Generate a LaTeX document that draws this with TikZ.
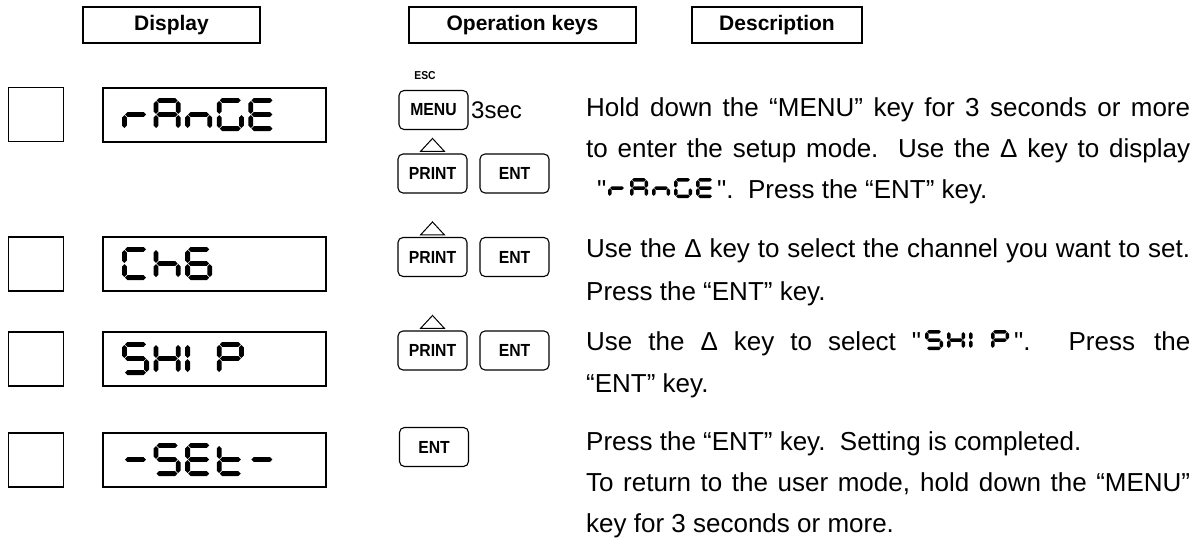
\documentclass[tikz,border=0pt]{standalone}
\usepackage{fontspec}
\setmainfont{Liberation Sans}
\newfontfamily\rawfont{Liberation Sans}
\newfontfamily\keyfont[FakeStretch=0.9]{Liberation Sans}
\usetikzlibrary{calc}
% seven-segment helpers
\newcommand\segH[3]{\fill[black] ({#1+\sg},#3) -- ({#1+\sg+\sth},{#3-\sth}) -- ({#2-\sg-\sth},{#3-\sth}) -- ({#2-\sg},#3) -- ({#2-\sg-\sth},{#3+\sth}) -- ({#1+\sg+\sth},{#3+\sth}) -- cycle;}
\newcommand\segV[3]{\fill[black] (#1,{#2+\sg}) -- ({#1+\sth},{#2+\sg+\sth}) -- ({#1+\sth},{#3-\sg-\sth}) -- (#1,{#3-\sg}) -- ({#1-\sth},{#3-\sg-\sth}) -- ({#1-\sth},{#2+\sg+\sth}) -- cycle;}
\newcommand\segA{\segH\gxl\gxr\gyt}
\newcommand\segB{\segV\gxr\gyt\gym}
\newcommand\segC{\segV\gxr\gym\gyb}
\newcommand\segD{\segH\gxl\gxr\gyb}
\newcommand\segE{\segV\gxl\gym\gyb}
\newcommand\segF{\segV\gxl\gyt\gym}
\newcommand\segG{\segH\gxl\gxr\gym}
\newcommand\lcdr{\segE\segG}
\newcommand\lcdA{\segA\segB\segC\segE\segF\segG}
\newcommand\lcdn{\segC\segE\segG}
\newcommand\lcdG{\segA\segC\segD\segE\segF}
\newcommand\lcdE{\segA\segD\segE\segF\segG}
\newcommand\lcdC{\segA\segD\segE\segF}
\newcommand\lcdh{\segC\segE\segF\segG}
\newcommand\lcdsix{\segA\segC\segD\segE\segF\segG}
\newcommand\lcdS{\segA\segC\segD\segF\segG}
\newcommand\lcdt{\segD\segE\segF\segG}
\newcommand\lcddash{\segG}
\newcommand\lcdK{\segB\segC\segE\segF\segG}
\newcommand\lcdI{\segE\segF}
\newcommand\lcdP{\segA\segB\segE\segF\segG}
\newcommand\glyph[5]{%
  \pgfmathsetmacro\gxl{#1+\sth}%
  \pgfmathsetmacro\gxr{#1+#3-\sth}%
  \pgfmathsetmacro\gyt{#2+\sth}%
  \pgfmathsetmacro\gyb{#2+#4-\sth}%
  \pgfmathsetmacro\gym{#2+#4/2}%
  #5}
\newcommand\lcdword[6]{%
  \foreach \segs [count=\i from 0] in {#6}{\glyph{#1+\i*#5}{#2}{#3}{#4}{\segs}}}
\tikzset{
  hdr/.style={draw, line width=1.3pt, minimum height=36pt, inner sep=0pt, font=\fontsize{21}{24}\selectfont\bfseries},
  sq/.style={draw, line width=1.3pt, minimum width=55pt, minimum height=54pt, inner sep=0pt},
  dbox/.style={draw, line width=2pt, minimum width=223pt, minimum height=54pt, inner sep=0pt},
  key/.style={draw, rounded corners=5pt, line width=1.1pt, inner sep=0pt, minimum width=69pt, minimum height=39pt, font=\keyfont\fontsize{17.5}{19}\selectfont\bfseries},
  tri/.style={draw, line width=1pt, line join=miter},
  txt/.style={anchor=base west, inner sep=0pt, font=\rawfont\fontsize{26}{30}\selectfont},
}
\begin{document}
\begin{tikzpicture}[x=1pt,y=-1pt]
\useasboundingbox (0,0) rectangle (1202,554);
\fill[white] (0,0) rectangle (1202,554);
% headers
\node[hdr, minimum width=177pt] (hDisp) at (171.5,25) {Display};
\node[hdr, minimum width=227pt] (hOp) at (522.5,25) {Operation keys};
\node[hdr, minimum width=170pt] (hDesc) at (777,25) {Description};
% rows of boxes
\foreach \yc/\n in {114.5/1,264/2,359/3,460/4}{
  \node[sq] (sq\n) at (35.7,\yc) {};
  \node[dbox] (disp\n) at (214.3,\yc) {};
}
% big LCD texts
\def\sth{2.4}\def\sg{0.6}
\lcdword{122}{98}{27}{33}{31.6}{\lcdr,\lcdA,\lcdn,\lcdG,\lcdE}
\lcdword{122}{247}{27}{33}{31.6}{\lcdC,\lcdh,\lcdsix}
\lcdword{122}{342}{27}{33}{31.6}{\lcdS,\lcdK,\lcdI,\lcdP}
\lcdword{122}{443}{27}{33}{31.6}{\lcddash,\lcdS,\lcdE,\lcdt,\lcddash}
% keys
\node[font=\keyfont\fontsize{11.5}{12}\selectfont\bfseries, inner sep=0pt] (esc) at (425,76) {ESC};
\node[key] (menu) at (433.5,110) {MENU};
\node[anchor=west, inner sep=0pt, font=\rawfont\fontsize{24}{28}\selectfont] (sec) at (471,110) {3sec};
\node[key] (p1) at (432.5,173.5) {PRINT};
\node[key] (e1) at (514.5,173.5) {ENT};
\node[key] (p2) at (432.5,257) {PRINT};
\node[key] (e2) at (514.5,257) {ENT};
\node[key] (p3) at (432.5,350.5) {PRINT};
\node[key] (e3) at (514.5,350.5) {ENT};
\node[key] (e4) at (434,447) {ENT};
\foreach \k in {p1,p2,p3}{
  \draw[tri] ($(\k.north)+(-12,-2)$) -- ++(12,-13) -- ++(12,13) -- cycle;
}
% description text
\node[txt] (l1) at (586,116) {\makebox[604pt][s]{Hold down the “MENU” key for 3 seconds or more}};
\node[txt] (l2) at (586,157) {\makebox[604pt][s]{to enter the setup mode.\ \ Use the Δ key to display}};
\node[txt] (l3a) at (597,198) {"};
\def\sth{1.75}\def\sg{0.35}
\lcdword{608}{178}{18}{20}{22}{\lcdr,\lcdA,\lcdn,\lcdG,\lcdE}
\node[txt] (l3b) at (717,198) {".\ \ Press the “ENT” key.};
\node[txt] (l4) at (586,257) {\makebox[604pt][s]{Use the Δ key to select the channel you want to set.}};
\node[txt] (l5) at (586,300) {Press the “ENT” key.};
\node[txt] (l6a) at (586,350) {\makebox[335pt][s]{Use the Δ key to select "}};
\lcdword{925}{330}{18}{20}{22}{\lcdS,\lcdK,\lcdI,\lcdP}
\node[txt] (l6b) at (1014,350) {\makebox[176pt][s]{".\ \ Press the}};
\node[txt] (l7) at (586,392) {“ENT” key.};
\node[txt] (l8) at (586,450) {Press the “ENT” key.\ \ Setting is completed.};
\node[txt] (l9) at (586,491) {\makebox[604pt][s]{To return to the user mode, hold down the “MENU”}};
\node[txt] (l10) at (586,532) {key for 3 seconds or more.};
\end{tikzpicture}
\end{document}
